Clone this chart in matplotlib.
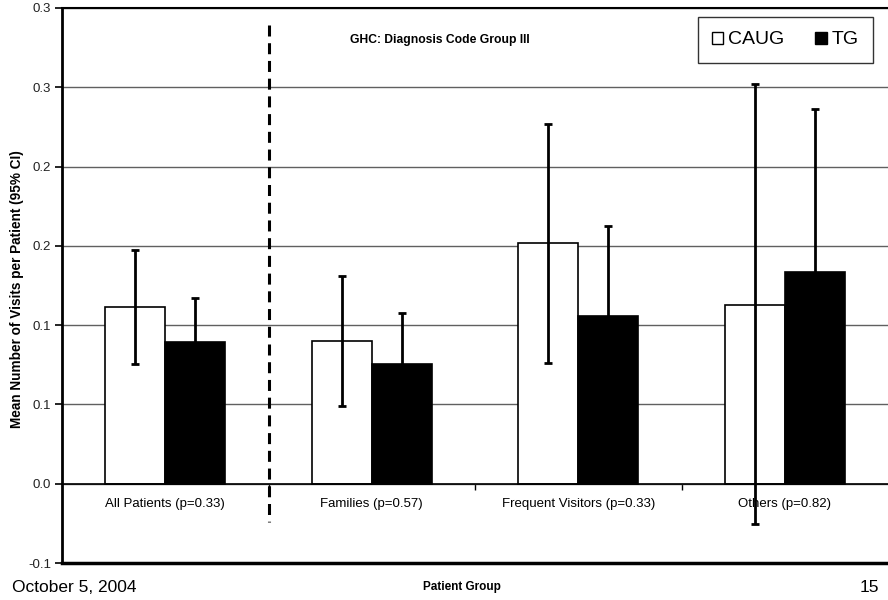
import numpy as np
import matplotlib.pyplot as plt
from matplotlib.patches import Patch

plt.rcParams['font.family'] = ['Liberation Sans', 'DejaVu Sans']

categories = ['All Patients (p=0.33)', 'Families (p=0.57)',
              'Frequent Visitors (p=0.33)', 'Others (p=0.82)']
caug = [0.1113, 0.0903, 0.1518, 0.1128]
caug_lo = [0.0752, 0.0492, 0.0764, -0.0254]
caug_hi = [0.1477, 0.1308, 0.2268, 0.2522]
tg = [0.0893, 0.0753, 0.1055, 0.1333]
tg_lo = [0.0616, 0.0428, 0.0485, 0.0304]
tg_hi = [0.1170, 0.1078, 0.1625, 0.2362]

yticks = [-0.05, 0.0, 0.05, 0.10, 0.15, 0.20, 0.25, 0.30]
ytick_labels = ['-0.1', '0.0', '0.1', '0.1', '0.2', '0.2', '0.3', '0.3']

fig = plt.figure(figsize=(8.88, 6), dpi=100)
ax = fig.add_axes([62 / 888, 37 / 600, 826 / 888, 555 / 600])

x = np.arange(len(categories))
w = 0.29
caug_err = [np.array(caug) - np.array(caug_lo), np.array(caug_hi) - np.array(caug)]
tg_err = [np.array(tg) - np.array(tg_lo), np.array(tg_hi) - np.array(tg)]

ax.set_axisbelow(True)
ax.yaxis.grid(True, color='#606060', lw=1.0)
b1 = ax.bar(x - w / 2, caug, w, color='white', edgecolor='black', lw=1.2, zorder=2)
b2 = ax.bar(x + w / 2, tg, w, color='black', edgecolor='black', lw=1.2, zorder=2)
ax.errorbar(x - w / 2, caug, yerr=caug_err, fmt='none', ecolor='black',
            elinewidth=2, capsize=3, capthick=2, zorder=3, clip_on=False)
ax.errorbar(x + w / 2, tg, yerr=tg_err, fmt='none', ecolor='black',
            elinewidth=2, capsize=3, capthick=2, zorder=3)

# dashed separator after "All Patients"
ax.plot([0.5, 0.5], [0.289, -0.024], color='black', lw=2.2,
        dashes=(3.6, 2.2), zorder=4, clip_on=False)

ax.set_xlim(-0.5, len(categories) - 0.5)
ax.set_ylim(yticks[0], yticks[-1])
ax.set_yticks(yticks)
ax.set_yticklabels(ytick_labels, fontsize=9.5, color='#222222')
ax.tick_params(axis='y', direction='out', length=5, width=1.2, pad=3)

# category axis crosses at zero
ax.spines['bottom'].set_position(('data', 0))
ax.spines['bottom'].set_linewidth(1.2)
ax.set_xticks(x[:-1] + 0.5)
ax.set_xticklabels([])
ax.set_xticks(x, minor=True)
ax.set_xticklabels(categories, minor=True, fontsize=9.5)
ax.tick_params(axis='x', which='major', direction='out', length=4, width=1)
ax.tick_params(axis='x', which='minor', length=0, pad=10)

ax.spines['right'].set_visible(False)
ax.spines['left'].set_linewidth(2)
ax.spines['top'].set_linewidth(1.5)
ax.axhline(yticks[0], color='black', lw=2.5, clip_on=False, zorder=5)

ax.text(0.4576, 0.942, 'GHC: Diagnosis Code Group III', transform=ax.transAxes,
        ha='center', va='center', fontsize=8.7, fontweight='bold')

handles = [Patch(facecolor='white', edgecolor='black'),
           Patch(facecolor='black', edgecolor='black')]
leg = ax.legend(handles, ['CAUG', 'TG'], ncol=2, loc='upper right',
                bbox_to_anchor=(0.982, 0.984), fontsize=14, frameon=True,
                fancybox=False, edgecolor='black', handlelength=0.57,
                handleheight=0.57, handletextpad=0.25, columnspacing=1.6,
                borderpad=0.75, borderaxespad=0)
leg.get_frame().set_linewidth(1.0)

fig.text(17 / 888, 1 - 289 / 600, 'Mean Number of Visits per Patient (95% CI)',
         rotation=90, ha='center', va='center', fontsize=9.8, fontweight='bold')
fig.text(12 / 888, 1 - 587 / 600, 'October 5, 2004', ha='left', va='center',
         fontsize=12.5)
fig.text(462 / 888, 1 - 587 / 600, 'Patient Group', ha='center', va='center',
         fontsize=8.5, fontweight='bold')
fig.text(879 / 888, 1 - 587 / 600, '15', ha='right', va='center',
         fontsize=12.5)

fig.savefig('out.png', dpi=100)
